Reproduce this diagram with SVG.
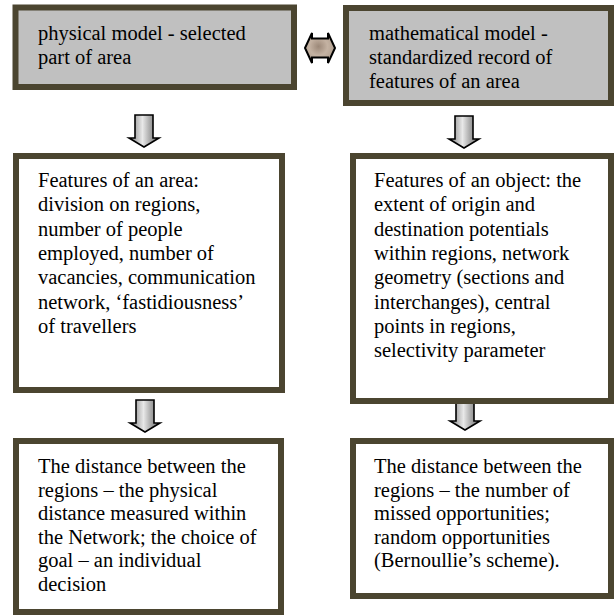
<svg xmlns="http://www.w3.org/2000/svg" width="615" height="615" viewBox="0 0 615 615" font-family="'Liberation Serif', 'Times New Roman', serif">
<style>
.box{stroke:#4b4530;stroke-width:6;}
.gray{fill:#c0c0c0;}
.white{fill:#ffffff;}
text{font-family:'Liberation Serif','Times New Roman',serif;font-size:20.5px;fill:#000;}
.darrow{fill:url(#metal);stroke:#000;stroke-width:1.6;stroke-linejoin:miter;}
.harrow{fill:url(#stone);stroke:#000;stroke-width:2;stroke-linejoin:miter;}
</style>
<defs>
<linearGradient id="metal" x1="0" y1="0" x2="1" y2="0">
<stop offset="0" stop-color="#7a7a7a"/>
<stop offset="0.45" stop-color="#e8e8e8"/>
<stop offset="0.7" stop-color="#a8a8a8"/>
<stop offset="1" stop-color="#6e6e6e"/>
</linearGradient>
<radialGradient id="stone" cx="0.45" cy="0.45" r="0.6">
<stop offset="0" stop-color="#9c8878"/>
<stop offset="0.5" stop-color="#c4b2a2"/>
<stop offset="1" stop-color="#ad9c8c"/>
</radialGradient>
<path id="down" d="M-9,0 H9 V23 H15 L0,32 L-15,23 H-9 Z"/>
</defs>
<rect width="615" height="615" fill="#ffffff"/>
<g id="connectors">
<path class="harrow" d="M305,48 L312,33 L312,38.5 L328,38.5 L328,33 L335,48 L328,63 L328,57.5 L312,57.5 L312,63 Z"/>
<use href="#down" class="darrow" transform="translate(144,115)"/>
<use href="#down" class="darrow" transform="translate(464,116)"/>
<use href="#down" class="darrow" transform="translate(145,400)"/>
<use href="#down" class="darrow" transform="translate(465,398)"/>
</g>
<g id="physical-model">
<rect class="box gray" x="15.5" y="7.5" width="278.5" height="79.5"/>
<text x="38" y="40">physical model - selected</text>
<text x="38" y="64">part of area</text>
</g>
<g id="mathematical-model">
<rect class="box gray" x="346" y="8" width="265" height="95"/>
<text x="369" y="40">mathematical model -</text>
<text x="369" y="64">standardized record of</text>
<text x="369" y="88">features of an area</text>
</g>
<g id="features-area">
<rect class="box white" x="16" y="156" width="266" height="234"/>
<text x="38" y="187">Features of an area:</text>
<text x="38" y="211.3">division on regions,</text>
<text x="38" y="235.6">number of people</text>
<text x="38" y="259.9">employed, number of</text>
<text x="38" y="284.2">vacancies, communication</text>
<text x="38" y="308.5">network, ‘fastidiousness’</text>
<text x="38" y="332.8">of travellers</text>
</g>
<g id="features-object">
<rect class="box white" x="353" y="156" width="258" height="245"/>
<text x="374" y="187">Features of an object: the</text>
<text x="374" y="211.3">extent of origin and</text>
<text x="374" y="235.6">destination potentials</text>
<text x="374" y="259.9">within regions, network</text>
<text x="374" y="284.2">geometry (sections and</text>
<text x="374" y="308.5">interchanges), central</text>
<text x="374" y="332.8">points in regions,</text>
<text x="374" y="357.1">selectivity parameter</text>
</g>
<g id="distance-physical">
<rect class="box white" x="16" y="441" width="265" height="171"/>
<text x="38" y="473">The distance between the</text>
<text x="38" y="496.5">regions – the physical</text>
<text x="38" y="520">distance measured within</text>
<text x="38" y="543.5">the Network; the choice of</text>
<text x="38" y="567">goal – an individual</text>
<text x="38" y="590.5">decision</text>
</g>
<g id="distance-opportunities">
<rect class="box white" x="353" y="441" width="258" height="155"/>
<text x="374" y="473">The distance between the</text>
<text x="374" y="496.5">regions – the number of</text>
<text x="374" y="520">missed opportunities;</text>
<text x="374" y="543.5">random opportunities</text>
<text x="374" y="567">(Bernoullie’s scheme).</text>
</g>
</svg>
